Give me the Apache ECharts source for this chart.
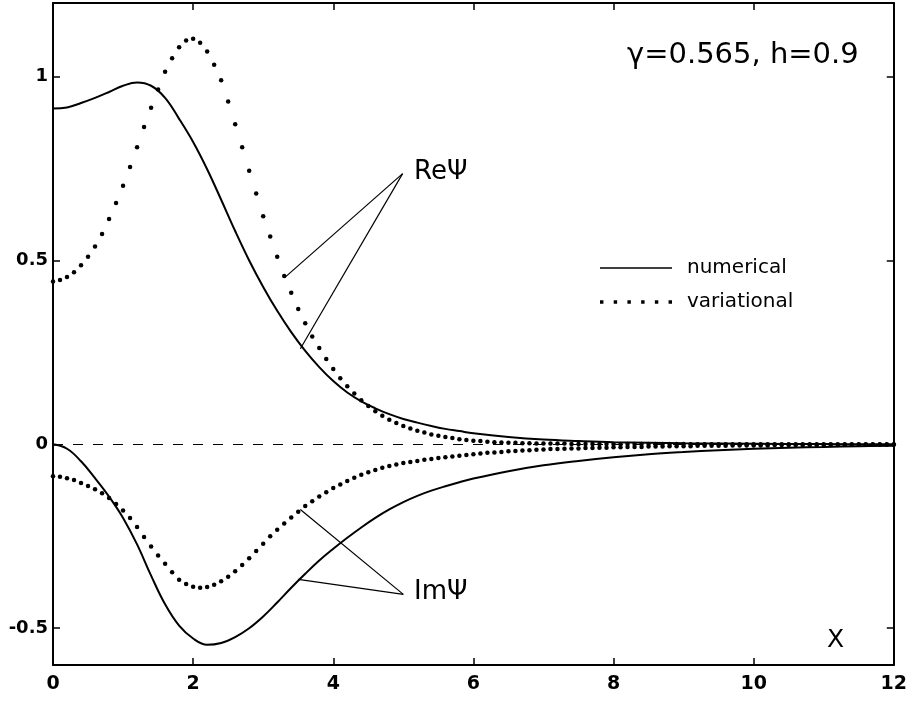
<!DOCTYPE html>
<html>
<head>
<meta charset="utf-8">
<script src="https://cdn.jsdelivr.net/npm/echarts@6/dist/echarts.min.js"></script>
<style>html,body{margin:0;padding:0;background:#fff}#c{width:910px;height:702px}</style>
</head>
<body>
<div id="c"></div>
<script>
// x-axis ticks and y-axis ticks
const xTicks = [0, 2, 4, 6, 8, 10, 12];
const yTicks = [-0.5, 0, 0.5, 1];

// numerical solution (solid)
const reNum = [[0,0.913],[0.2,0.916],[0.4,0.928],[0.6,0.942],[0.8,0.958],[1.0,0.975],[1.2,0.984],[1.4,0.975],[1.6,0.942],[1.8,0.885],[2.0,0.822],[2.2,0.748],[2.4,0.665],[2.6,0.58],[2.8,0.5],[3.0,0.428],[3.2,0.363],[3.4,0.305],[3.6,0.254],[3.8,0.21],[4.0,0.172],[4.2,0.141],[4.4,0.117],[4.6,0.098],[4.8,0.082],[5.0,0.069],[5.2,0.059],[5.4,0.05],[5.6,0.042],[5.8,0.036],[6.0,0.03],[6.5,0.02],[7.0,0.013],[7.5,0.009],[8.0,0.006],[9.0,0.003],[10.0,0.0015],[11.0,0.0007],[12.0,0.0003]];
const imNum = [[0,0],[0.2,-0.012],[0.4,-0.046],[0.6,-0.092],[0.8,-0.142],[1.0,-0.2],[1.2,-0.272],[1.4,-0.357],[1.6,-0.435],[1.8,-0.493],[2.0,-0.528],[2.2,-0.545],[2.4,-0.54],[2.6,-0.524],[2.8,-0.5],[3.0,-0.468],[3.2,-0.43],[3.4,-0.39],[3.6,-0.352],[3.8,-0.316],[4.0,-0.284],[4.2,-0.254],[4.4,-0.226],[4.6,-0.2],[4.8,-0.177],[5.0,-0.157],[5.2,-0.14],[5.4,-0.126],[5.6,-0.114],[5.8,-0.103],[6.0,-0.093],[6.5,-0.073],[7.0,-0.057],[7.5,-0.045],[8.0,-0.035],[8.5,-0.027],[9.0,-0.021],[9.5,-0.016],[10.0,-0.012],[10.5,-0.009],[11.0,-0.007],[11.5,-0.005],[12.0,-0.004]];

// variational solution (dots)
const reVar = [[0,0.443],[0.1,0.447],[0.2,0.455],[0.3,0.468],[0.4,0.487],[0.5,0.51],[0.6,0.538],[0.7,0.572],[0.8,0.613],[0.9,0.656],[1.0,0.703],[1.1,0.754],[1.2,0.808],[1.3,0.863],[1.4,0.915],[1.5,0.965],[1.6,1.013],[1.7,1.05],[1.8,1.08],[1.9,1.098],[2.0,1.103],[2.1,1.092],[2.2,1.068],[2.3,1.032],[2.4,0.99],[2.5,0.932],[2.6,0.87],[2.7,0.808],[2.8,0.744],[2.9,0.682],[3.0,0.62],[3.1,0.565],[3.2,0.51],[3.3,0.458],[3.4,0.412],[3.5,0.368],[3.6,0.329],[3.7,0.293],[3.8,0.262],[3.9,0.232],[4.0,0.205],[4.1,0.18],[4.2,0.158],[4.3,0.138],[4.4,0.12],[4.5,0.104],[4.6,0.09],[4.7,0.078],[4.8,0.067],[4.9,0.058],[5.0,0.05],[5.1,0.043],[5.2,0.037],[5.3,0.032],[5.4,0.027],[5.5,0.023],[5.6,0.02],[5.7,0.017],[5.8,0.014],[5.9,0.012],[6.0,0.01],[6.1,0.009],[6.2,0.007],[6.3,0.006],[6.4,0.005],[6.5,0.004],[6.6,0.004],[6.7,0.003],[6.8,0.003],[6.9,0.002],[7.0,0.002],[7.1,0.002],[7.2,0.002],[7.3,0.002],[7.4,0.001],[7.5,0.001],[7.6,0.001],[7.7,0.001],[7.8,0.001],[7.9,0.001],[8.0,0.001],[8.1,0.001],[8.2,0.001],[8.3,0.001],[8.4,0.001],[8.5,0.001],[8.6,0.001],[8.7,0.001],[8.8,0.001],[8.9,0.001],[9.0,0.001],[9.1,0],[9.2,0],[9.3,0],[9.4,0],[9.5,0],[9.6,0],[9.7,0],[9.8,0],[9.9,0],[10.0,0],[10.1,0],[10.2,0],[10.3,0],[10.4,0],[10.5,0],[10.6,0],[10.7,0],[10.8,0],[10.9,0],[11.0,0],[11.1,0],[11.2,0],[11.3,0],[11.4,0],[11.5,0],[11.6,0],[11.7,0],[11.8,0],[11.9,0],[12.0,0]];
const imVar = [[0,-0.087],[0.1,-0.088],[0.2,-0.092],[0.3,-0.097],[0.4,-0.105],[0.5,-0.113],[0.6,-0.122],[0.7,-0.133],[0.8,-0.146],[0.9,-0.162],[1.0,-0.18],[1.1,-0.2],[1.2,-0.225],[1.3,-0.252],[1.4,-0.278],[1.5,-0.302],[1.6,-0.325],[1.7,-0.348],[1.8,-0.368],[1.9,-0.38],[2.0,-0.387],[2.1,-0.39],[2.2,-0.388],[2.3,-0.382],[2.4,-0.372],[2.5,-0.36],[2.6,-0.345],[2.7,-0.328],[2.8,-0.31],[2.9,-0.29],[3.0,-0.27],[3.1,-0.25],[3.2,-0.232],[3.3,-0.215],[3.4,-0.199],[3.5,-0.183],[3.6,-0.168],[3.7,-0.155],[3.8,-0.142],[3.9,-0.13],[4.0,-0.119],[4.1,-0.109],[4.2,-0.1],[4.3,-0.091],[4.4,-0.083],[4.5,-0.076],[4.6,-0.07],[4.7,-0.064],[4.8,-0.059],[4.9,-0.055],[5.0,-0.051],[5.1,-0.048],[5.2,-0.045],[5.3,-0.042],[5.4,-0.04],[5.5,-0.037],[5.6,-0.035],[5.7,-0.033],[5.8,-0.031],[5.9,-0.029],[6.0,-0.027],[6.1,-0.025],[6.2,-0.023],[6.3,-0.022],[6.4,-0.021],[6.5,-0.019],[6.6,-0.018],[6.7,-0.017],[6.8,-0.016],[6.9,-0.015],[7.0,-0.014],[7.1,-0.013],[7.2,-0.013],[7.3,-0.012],[7.4,-0.011],[7.5,-0.011],[7.6,-0.01],[7.7,-0.01],[7.8,-0.009],[7.9,-0.009],[8.0,-0.008],[8.1,-0.008],[8.2,-0.007],[8.3,-0.007],[8.4,-0.007],[8.5,-0.006],[8.6,-0.006],[8.7,-0.006],[8.8,-0.005],[8.9,-0.005],[9.0,-0.005],[9.1,-0.005],[9.2,-0.004],[9.3,-0.004],[9.4,-0.004],[9.5,-0.004],[9.6,-0.004],[9.7,-0.003],[9.8,-0.003],[9.9,-0.003],[10.0,-0.003],[10.1,-0.003],[10.2,-0.003],[10.3,-0.002],[10.4,-0.002],[10.5,-0.002],[10.6,-0.002],[10.7,-0.002],[10.8,-0.002],[10.9,-0.002],[11.0,-0.002],[11.1,-0.002],[11.2,-0.002],[11.3,-0.001],[11.4,-0.001],[11.5,-0.001],[11.6,-0.001],[11.7,-0.001],[11.8,-0.001],[11.9,-0.001],[12.0,-0.001]];

// annotation pointer lines: label anchor, then targets (data coords)
const reLabelAnchor = [4.99, 0.736];
const reTargets = [[3.31, 0.454], [3.53, 0.26]];
const imLabelAnchor = [5.0, -0.408];
const imTargets = [[3.53, -0.177], [3.5, -0.367]];

const seriesNames = ['numerical', 'variational'];
const paramText = 'γ=0.565, h=0.9';

const FONT = 'DejaVu Sans';
const chart = echarts.init(document.getElementById('c'), null, {renderer: 'canvas'});

function pointerLines(anchor, targets) {
  return targets.map(t => [{coord: anchor}, {coord: t}]);
}

const axisLineStyle = {show: true, onZero: false, lineStyle: {color: '#000', width: 2}};
const tickStyle = {show: true, inside: true, length: 7, lineStyle: {color: '#000', width: 1.5}};

const dotsIcon = 'path://M0,0h3.5v3.5h-3.5z M14,0h3.5v3.5h-3.5z M28,0h3.5v3.5h-3.5z M42,0h3.5v3.5h-3.5z M56,0h3.5v3.5h-3.5z M70,0h3.5v3.5h-3.5z';
const solidIcon = 'path://M0,0h72v1.6h-72z';

const option = {
  animation: false,
  backgroundColor: '#fff',
  grid: {left: 53, right: 15, top: 3, bottom: 37, containLabel: false},
  legend: {
    orient: 'vertical',
    left: 600,
    top: 258,
    padding: 0,
    itemWidth: 72,
    itemHeight: 14,
    itemGap: 14,
    selectedMode: false,
    textStyle: {fontFamily: FONT, fontSize: 20, color: '#000', padding: [0, 0, 0, 10]},
    data: [
      {name: seriesNames[0], icon: solidIcon},
      {name: seriesNames[1], icon: dotsIcon}
    ]
  },
  xAxis: [
    {
      type: 'value', position: 'bottom', min: xTicks[0], max: xTicks[xTicks.length - 1], interval: 2,
      axisLine: axisLineStyle, axisTick: tickStyle, splitLine: {show: false},
      axisLabel: {show: true, margin: 10, fontFamily: FONT, fontSize: 19, fontWeight: 'bold', color: '#000'}
    },
    {
      type: 'value', position: 'top', min: xTicks[0], max: xTicks[xTicks.length - 1], interval: 2,
      axisLine: axisLineStyle, axisTick: tickStyle, splitLine: {show: false},
      axisLabel: {show: false}
    }
  ],
  yAxis: [
    {
      type: 'value', position: 'left', min: -0.6, max: 1.2,
      axisLine: axisLineStyle, splitLine: {show: false},
      axisTick: Object.assign({}, tickStyle, {customValues: yTicks}),
      axisLabel: {show: true, margin: 5, fontFamily: FONT, fontSize: 18, fontWeight: 'bold', color: '#000',
        customValues: yTicks, formatter: v => String(v)}
    },
    {
      type: 'value', position: 'right', min: -0.6, max: 1.2,
      axisLine: axisLineStyle, splitLine: {show: false},
      axisTick: Object.assign({}, tickStyle, {customValues: yTicks}),
      axisLabel: {show: false}
    }
  ],
  series: [
    {
      name: seriesNames[0], type: 'line', data: reNum, showSymbol: false, symbol: 'none', smooth: 0.4,
      color: '#000', lineStyle: {color: '#000', width: 2},
      markLine: {
        silent: true, symbol: ['none', 'none'], label: {show: false},
        lineStyle: {color: '#000', width: 1.2, type: 'solid'},
        data: [
          {yAxis: 0, lineStyle: {type: [10, 10], width: 1, color: '#000'}},
          ...pointerLines(reLabelAnchor, reTargets),
          ...pointerLines(imLabelAnchor, imTargets)
        ]
      }
    },
    {
      name: seriesNames[0], type: 'line', data: imNum, showSymbol: false, symbol: 'none', smooth: 0.4,
      color: '#000', lineStyle: {color: '#000', width: 2}
    },
    {
      name: seriesNames[1], type: 'scatter', data: reVar, symbol: 'circle', symbolSize: 4.5,
      color: '#000', itemStyle: {color: '#000', opacity: 1}
    },
    {
      name: seriesNames[1], type: 'scatter', data: imVar, symbol: 'circle', symbolSize: 4.5,
      color: '#000', itemStyle: {color: '#000', opacity: 1}
    }
  ],
  graphic: [
    {type: 'text', left: 627, top: 41, style: {text: paramText, fontFamily: FONT, fontSize: 29, fill: '#000'}},
    {type: 'text', left: 414, top: 159, style: {text: 'ReΨ', fontFamily: FONT, fontSize: 26, fill: '#000'}},
    {type: 'text', left: 414, top: 579, style: {text: 'ImΨ', fontFamily: FONT, fontSize: 26, fill: '#000'}},
    {type: 'text', left: 827, top: 628, style: {text: 'X', fontFamily: FONT, fontSize: 25, fill: '#000'}}
  ]
};
chart.setOption(option);
</script>
</body>
</html>
